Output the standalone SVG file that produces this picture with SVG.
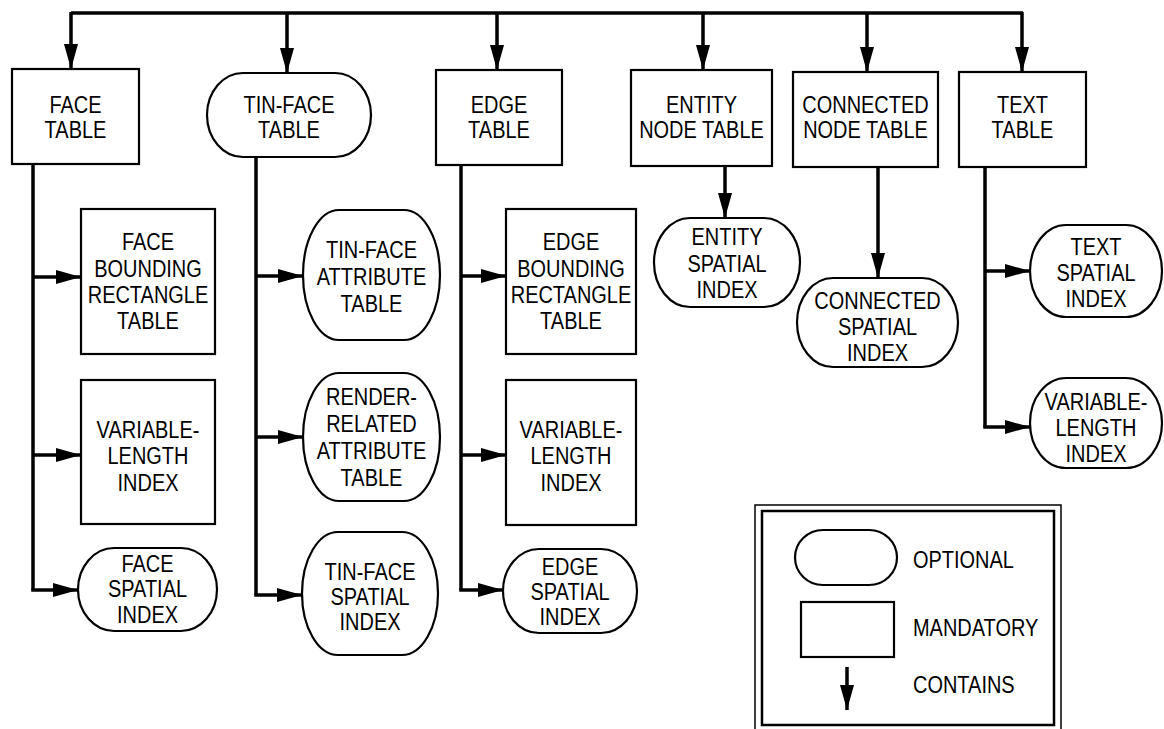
<svg xmlns="http://www.w3.org/2000/svg" width="1164" height="729" viewBox="0 0 1164 729">
<style>
.box{fill:#fff;stroke:#000;stroke-width:2.2}
.opt{fill:#fff;stroke:#000;stroke-width:2.2}
.lbl{font-family:"Liberation Sans",Arial,sans-serif;font-size:23.5px;fill:#000;text-anchor:middle;transform-box:fill-box;transform-origin:center;transform:scaleX(0.85)}
.lg{font-family:"Liberation Sans",Arial,sans-serif;font-size:23.5px;fill:#000;transform-box:fill-box;transform-origin:left center;transform:scaleX(0.85)}
.wire{fill:none;stroke:#000;stroke-width:3.5;stroke-linejoin:miter}
.arr{fill:none;stroke:#000;stroke-width:3.5;marker-end:url(#ah)}
</style>
<defs>
<marker id="ah" markerUnits="userSpaceOnUse" markerWidth="26" markerHeight="14" refX="25" refY="7" orient="auto" viewBox="0 0 26 14">
<path d="M0,0 L25,7 L0,14 z" fill="#000"/>
</marker>
</defs>
<rect width="1164" height="729" fill="#fff"/>
<g id="connectors">
<polyline class="wire" points="71,13 1023,13"/>
<line class="arr" x1="71" y1="12" x2="71" y2="69"/>
<line class="arr" x1="287" y1="12" x2="287" y2="73"/>
<line class="arr" x1="497" y1="12" x2="497" y2="70"/>
<line class="arr" x1="703" y1="12" x2="703" y2="70"/>
<line class="arr" x1="867" y1="12" x2="867" y2="72"/>
<line class="arr" x1="1022" y1="12" x2="1022" y2="72"/>
<polyline class="wire" points="33,164 33,590"/>
<line class="arr" x1="33" y1="277" x2="81" y2="277"/>
<line class="arr" x1="33" y1="455" x2="81" y2="455"/>
<line class="arr" x1="31.25" y1="590" x2="78" y2="590"/>
<polyline class="wire" points="256,157 256,595"/>
<line class="arr" x1="256" y1="276" x2="303" y2="276"/>
<line class="arr" x1="256" y1="437" x2="303" y2="437"/>
<line class="arr" x1="254.25" y1="595" x2="302" y2="595"/>
<polyline class="wire" points="461,165 461,590"/>
<line class="arr" x1="461" y1="276" x2="506" y2="276"/>
<line class="arr" x1="461" y1="455" x2="506" y2="455"/>
<line class="arr" x1="459.25" y1="590" x2="503" y2="590"/>
<line class="arr" x1="725" y1="166" x2="725" y2="218"/>
<line class="arr" x1="878" y1="167" x2="878" y2="278"/>
<polyline class="wire" points="985,167 985,427"/>
<line class="arr" x1="985" y1="271" x2="1030" y2="271"/>
<line class="arr" x1="983.25" y1="427" x2="1030" y2="427"/>
</g>
<g id="face_table"><rect class="box" x="12" y="69" width="127" height="95"/><text class="lbl" x="75.5" y="113">FACE</text><text class="lbl" x="75.5" y="138">TABLE</text></g>
<g id="tinface_table"><rect class="opt" x="207" y="73" width="164" height="84" rx="36" ry="42"/><text class="lbl" x="289" y="113">TIN-FACE</text><text class="lbl" x="289" y="138">TABLE</text></g>
<g id="edge_table"><rect class="box" x="436" y="70" width="126" height="95"/><text class="lbl" x="499" y="113">EDGE</text><text class="lbl" x="499" y="138">TABLE</text></g>
<g id="entity_node_table"><rect class="box" x="631" y="70" width="141" height="96"/><text class="lbl" x="701.5" y="113">ENTITY</text><text class="lbl" x="701.5" y="138">NODE TABLE</text></g>
<g id="connected_node_table"><rect class="box" x="793" y="72" width="145" height="95"/><text class="lbl" x="865.5" y="113">CONNECTED</text><text class="lbl" x="865.5" y="138">NODE TABLE</text></g>
<g id="text_table"><rect class="box" x="959" y="72" width="127" height="95"/><text class="lbl" x="1022.5" y="113">TEXT</text><text class="lbl" x="1022.5" y="138">TABLE</text></g>
<g id="face_bounding"><rect class="box" x="81" y="209" width="134" height="145"/><text class="lbl" x="148" y="250">FACE</text><text class="lbl" x="148" y="277">BOUNDING</text><text class="lbl" x="148" y="303">RECTANGLE</text><text class="lbl" x="148" y="329">TABLE</text></g>
<g id="face_varlen"><rect class="box" x="81" y="380" width="134" height="144"/><text class="lbl" x="148" y="438">VARIABLE-</text><text class="lbl" x="148" y="464.5">LENGTH</text><text class="lbl" x="148" y="491">INDEX</text></g>
<g id="face_spatial"><rect class="opt" x="78" y="548" width="139" height="83" rx="36" ry="41.5"/><text class="lbl" x="147.5" y="572">FACE</text><text class="lbl" x="147.5" y="597">SPATIAL</text><text class="lbl" x="147.5" y="623">INDEX</text></g>
<g id="tinface_attr"><rect class="opt" x="303" y="210" width="137" height="130" rx="36" ry="65"/><text class="lbl" x="371.5" y="258">TIN-FACE</text><text class="lbl" x="371.5" y="285">ATTRIBUTE</text><text class="lbl" x="371.5" y="312">TABLE</text></g>
<g id="render_related"><rect class="opt" x="303" y="373" width="137" height="128" rx="36" ry="64"/><text class="lbl" x="371.5" y="405">RENDER-</text><text class="lbl" x="371.5" y="432">RELATED</text><text class="lbl" x="371.5" y="459">ATTRIBUTE</text><text class="lbl" x="371.5" y="486">TABLE</text></g>
<g id="tinface_spatial"><rect class="opt" x="302" y="532" width="136" height="123" rx="36" ry="61.5"/><text class="lbl" x="370" y="580">TIN-FACE</text><text class="lbl" x="370" y="605">SPATIAL</text><text class="lbl" x="370" y="630">INDEX</text></g>
<g id="edge_bounding"><rect class="box" x="506" y="209" width="130" height="145"/><text class="lbl" x="571" y="250">EDGE</text><text class="lbl" x="571" y="277">BOUNDING</text><text class="lbl" x="571" y="303">RECTANGLE</text><text class="lbl" x="571" y="329">TABLE</text></g>
<g id="edge_varlen"><rect class="box" x="506" y="380" width="130" height="145"/><text class="lbl" x="571" y="438">VARIABLE-</text><text class="lbl" x="571" y="464.5">LENGTH</text><text class="lbl" x="571" y="491">INDEX</text></g>
<g id="edge_spatial"><rect class="opt" x="503" y="549" width="134" height="84" rx="36" ry="42"/><text class="lbl" x="570" y="575">EDGE</text><text class="lbl" x="570" y="600">SPATIAL</text><text class="lbl" x="570" y="625">INDEX</text></g>
<g id="entity_spatial"><rect class="opt" x="654" y="218" width="146" height="89" rx="36" ry="44.5"/><text class="lbl" x="727" y="245">ENTITY</text><text class="lbl" x="727" y="272">SPATIAL</text><text class="lbl" x="727" y="298">INDEX</text></g>
<g id="connected_spatial"><rect class="opt" x="797" y="278" width="161" height="89" rx="36" ry="44.5"/><text class="lbl" x="877.5" y="309">CONNECTED</text><text class="lbl" x="877.5" y="335">SPATIAL</text><text class="lbl" x="877.5" y="361">INDEX</text></g>
<g id="text_spatial"><rect class="opt" x="1030" y="225" width="132" height="92" rx="36" ry="46"/><text class="lbl" x="1096" y="255">TEXT</text><text class="lbl" x="1096" y="281">SPATIAL</text><text class="lbl" x="1096" y="307">INDEX</text></g>
<g id="text_varlen"><rect class="opt" x="1030" y="378" width="132" height="90" rx="36" ry="45"/><text class="lbl" x="1096" y="410">VARIABLE-</text><text class="lbl" x="1096" y="436">LENGTH</text><text class="lbl" x="1096" y="462">INDEX</text></g>
<g id="legend">
<rect x="755" y="505" width="306" height="226" fill="#fff" stroke="#000" stroke-width="1.5"/>
<rect x="762" y="511" width="292" height="214" fill="none" stroke="#000" stroke-width="2.5"/>
<rect class="opt" x="795" y="530" width="102" height="55" rx="28" ry="27.5"/>
<text class="lg" x="913" y="568">OPTIONAL</text>
<rect class="box" x="801" y="602" width="93" height="55"/>
<text class="lg" x="913" y="636">MANDATORY</text>
<line class="arr" x1="847" y1="667" x2="847" y2="710"/>
<text class="lg" x="913" y="693">CONTAINS</text>
</g>
</svg>
